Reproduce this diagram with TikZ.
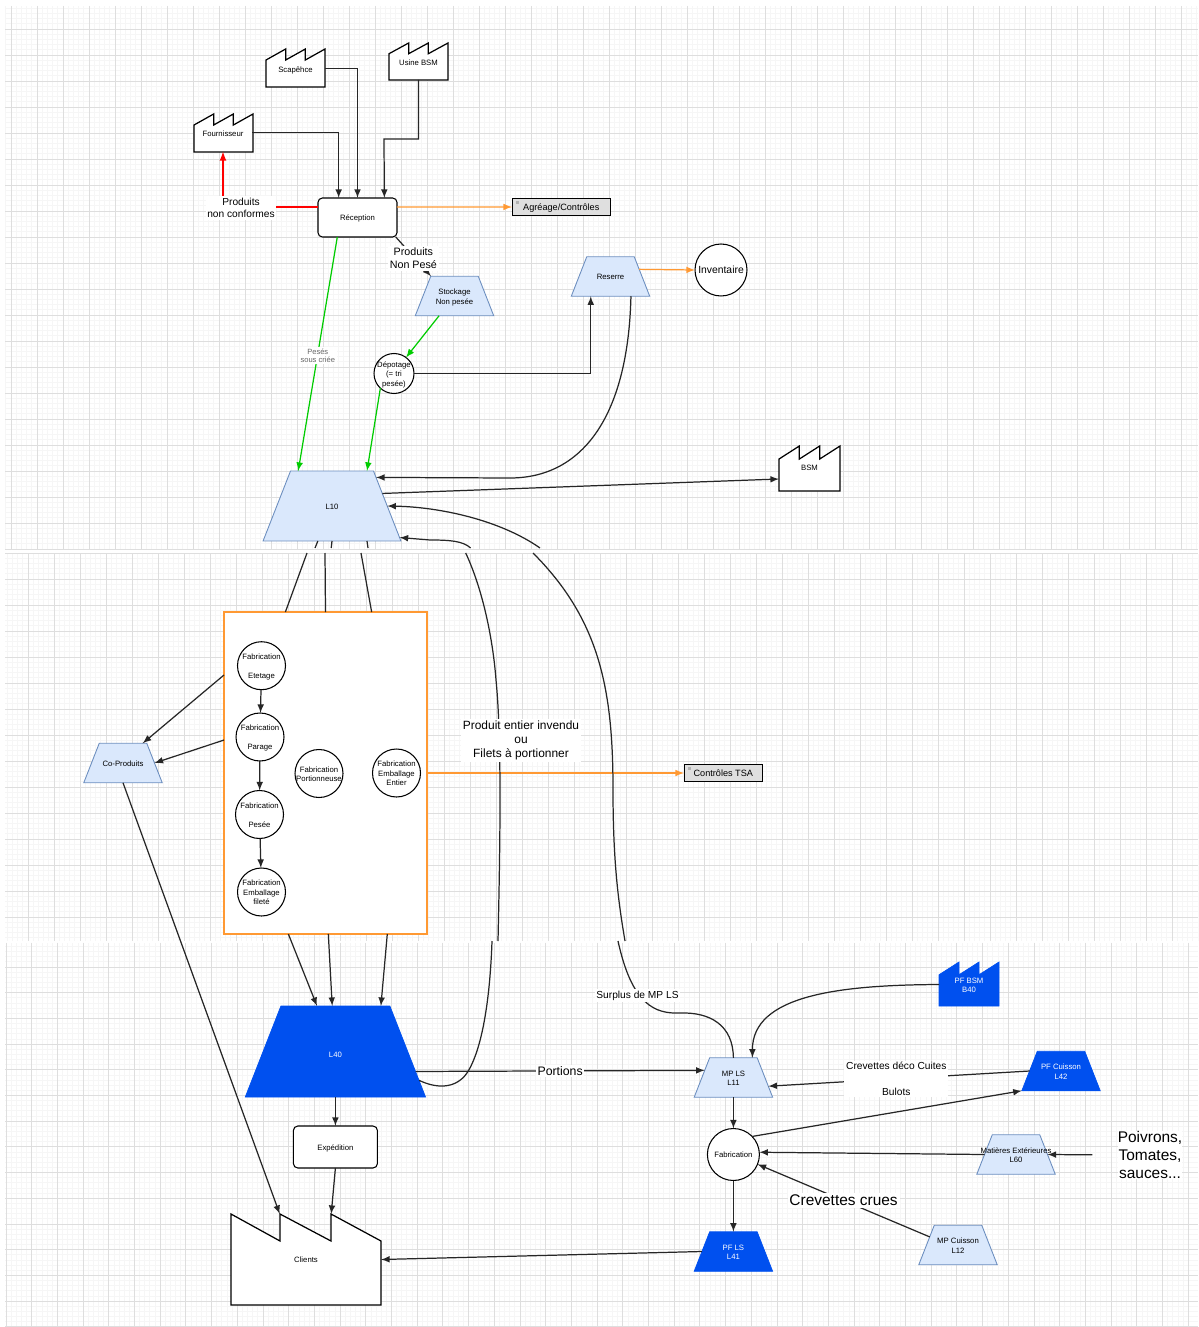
\documentclass[tikz,border=0pt]{standalone}
\usepackage{fontspec}
\setmainfont{Liberation Sans}
\usetikzlibrary{shapes.geometric}
\definecolor{gridminor}{HTML}{F6F6F6}
\definecolor{gridmajor}{HTML}{DEDEDE}
\definecolor{lightfill}{HTML}{DAE8FC}
\definecolor{lightline}{HTML}{6C8EBF}
\definecolor{darkfill}{HTML}{0050EF}
\definecolor{orangeline}{HTML}{FF9933}
\definecolor{greenline}{HTML}{00CC00}
\newcommand{\txtsmall}{\fontsize{4.4}{5.4}\selectfont}
\newcommand{\txtlabel}{\fontsize{5.8}{7.2}\selectfont}
\newcommand{\txtmid}{\fontsize{6.8}{8}\selectfont}
\newcommand{\txtbig}{\fontsize{8.8}{10.2}\selectfont}
\newcommand{\ztext}[1]{\smash{\makebox[0pt]{\raisebox{-2.1pt}{\begin{tabular}{@{}c@{}}#1\end{tabular}}}}}
\tikzset{
	trapbase/.style={trapezium, trapezium left angle=68.6, trapezium right angle=68.6, outer sep=0pt, font=\txtsmall},
	trapsmall/.style={inner xsep=0.475cm, inner ysep=0.395cm},
	lighttrap/.style={trapbase, draw=lightline, fill=lightfill, line width=0.5pt},
	darktrap/.style={trapbase, draw=darkfill, fill=darkfill, text=white},
	ronde/.style={circle, draw, fill=white, line width=0.6pt, inner sep=0pt, outer sep=0pt, minimum size=0.96cm, font=\txtsmall},
	boite/.style={rectangle, rounded corners=2.5pt, draw, fill=white, line width=0.6pt, inner sep=0pt, outer sep=0pt, font=\txtsmall},
	ctrlbox/.style={rectangle, draw, fill=gray!25, line width=0.6pt, inner sep=0pt, outer sep=0pt, font=\fontsize{5.2}{6.4}\selectfont,
		path picture={\fill[gray!60] ([xshift=2pt,yshift=-1.5pt]path picture bounding box.north west) rectangle ++(2pt,-2pt);}},
	usine/.style={draw, fill=white, line width=0.7pt},
	usinebleu/.style={draw=darkfill, fill=darkfill},
	usinetxt/.style={rectangle, inner sep=0pt, outer sep=0pt, font=\txtsmall},
	whitelab/.style={fill=white, inner sep=1pt, align=center, font=\txtlabel},
	fleche/.style={-latex, line width=0.7pt, draw=black!85},
	flechegreen/.style={-latex, line width=0.7pt, draw=greenline},
	flecheorange/.style={-latex, line width=0.7pt, draw=orangeline},
	flechered/.style={-latex, line width=0.8pt, draw=red},
}
\newcommand{\gridpanel}[7]{
	\begin{scope}
		\clip (#1,#2) rectangle (#3,#4);
		\foreach \k in {0,...,235} {
			\pgfmathsetmacro\gx{#5+\k*#7/5}
			\draw[gridminor, line width=0.5pt] (\gx,#2)--(\gx,#4);
		}
		\foreach \k in {0,...,110} {
			\pgfmathsetmacro\gy{#6+\k*#7/5}
			\draw[gridminor, line width=0.5pt] (#1,\gy)--(#3,\gy);
		}
		\foreach \k in {0,...,47} {
			\pgfmathsetmacro\gx{#5+\k*#7}
			\draw[gridmajor, line width=0.5pt] (\gx,#2)--(\gx,#4);
		}
		\foreach \k in {0,...,22} {
			\pgfmathsetmacro\gy{#6+\k*#7}
			\draw[gridmajor, line width=0.5pt] (#1,\gy)--(#3,\gy);
		}
	\end{scope}
}
\newcommand{\factory}[6][usine]{
	\path[#1] (#3,#4+#6)--(#3,#4+0.29*#6)--(#3+#5/3,#4)--(#3+#5/3,#4+0.29*#6)--(#3+2*#5/3,#4)--(#3+2*#5/3,#4+0.29*#6)--(#3+#5,#4)--(#3+#5,#4+#6)--cycle;
}
\begin{document}
\begin{tikzpicture}[x=0.02cm,y=-0.02cm]
	\useasboundingbox (0,0) rectangle (1198,1327);
	\gridpanel{5}{6}{1198}{549}{-15}{3}{26}
	\gridpanel{5}{553.8}{1198}{941}{2}{553}{26}
	\gridpanel{5}{942.5}{1198}{1327}{-19.7}{941.3}{25.7}

	\factory{fourn}{194}{114}{59}{38}
	\node[usinetxt, minimum width=1.18cm, minimum height=0.76cm] (fourn) at (223,132.5) {\ztext{\raisebox{-0.6pt}{Fournisseur}}};
	\factory{scap}{266}{49}{59}{38}
	\node[usinetxt, minimum width=1.18cm, minimum height=0.76cm] (scap) at (295.5,68.5) {\ztext{\raisebox{-0.6pt}{Scapêhce}}};
	\factory{bsmusine}{389}{43}{59}{37}
	\node[usinetxt, minimum width=1.18cm, minimum height=0.74cm] (bsmusine) at (418.5,61.5) {\ztext{\raisebox{-0.6pt}{Usine BSM}}};
	\factory{bsm}{779}{446}{61}{45}
	\node[usinetxt, minimum width=1.22cm, minimum height=0.9cm] (bsm) at (809.5,468.5) {\ztext{\raisebox{1pt}{BSM}}};
	\factory[usinebleu]{pfbsm}{939}{962}{60}{44}
	\node[usinetxt, text=white, minimum width=1.2cm, minimum height=0.88cm] (pfbsm) at (969,984.5) {\ztext{PF BSM\\B40}};
	\path[usine] (231,1305)--(231,1214)--(280,1241)--(280,1214)--(331,1241)--(331,1214)--(381,1241)--(381,1305)--cycle;
	\node[usinetxt, minimum width=3cm, minimum height=1.82cm] (clients) at (306,1259.5) {\ztext{Clients}};

	\node[boite, minimum width=1.58cm, minimum height=0.78cm] (recep) at (357.5,217.5) {\ztext{Réception}};
	\node[boite, minimum width=1.68cm, minimum height=0.84cm] (exped) at (335.4,1147) {\ztext{Expédition}};
	\node[ctrlbox, minimum width=1.97cm, minimum height=0.35cm] (agreage) at (561.3,207) {\ztext{Agréage/Contrôles}};
	\node[ctrlbox, minimum width=1.57cm, minimum height=0.35cm] (tsa) at (723.3,773) {\ztext{Contrôles TSA}};

	\node[lighttrap, trapsmall] (stock) at (454.5,296) {\ztext{Stockage\\Non pesée}};
	\node[lighttrap, trapsmall] (reserre) at (610.5,276.5) {\ztext{Reserre}};
	\node[lighttrap, inner xsep=0.83cm, inner ysep=0.7cm] (L10) at (332,506) {\ztext{L10}};
	\node[lighttrap, trapsmall] (copro) at (123,763) {\ztext{Co-Produits}};
	\node[lighttrap, trapsmall] (mpls) at (733.4,1077.5) {\ztext{MP LS\\L11}};
	\node[lighttrap, trapsmall] (mat) at (1016,1154.5) {\ztext{Matières Extérieures\\L60}};
	\node[lighttrap, trapsmall] (mpcuis) at (958,1245) {\ztext{MP Cuisson\\L12}};
	\node[darktrap, inner xsep=1.09cm, inner ysep=0.91cm] (L40) at (335.4,1051.5) {\ztext{\raisebox{-1.7pt}{L40}}};
	\node[darktrap, trapsmall] (pfcuis) at (1061,1071) {\ztext{PF Cuisson\\L42}};
	\node[darktrap, trapsmall] (pfls) at (733.4,1251.5) {\ztext{PF LS\\L41}};

	\node[ronde, minimum size=0.8cm] (depot) at (394,373.5) {\ztext{Dépotage\\(= tri\\pesée)}};
	\node[ronde, minimum size=1.04cm, font=\fontsize{5.9}{6.8}\selectfont] (inv) at (721,270) {\ztext{Inventaire}};
	\node[ronde, minimum size=1.04cm] (fab) at (733.4,1154.5) {\ztext{Fabrication}};

	\node[rectangle, draw=orangeline, fill=white, line width=0.9pt, inner sep=0pt, outer sep=0pt, minimum width=4.06cm, minimum height=6.44cm] (usinage) at (325.5,773) {};
	\node[ronde] (etet) at (261.5,665.7) {\ztext{Fabrication\\~\\Etetage}};
	\node[ronde] (parage) at (260,737) {\ztext{Fabrication\\~\\Parage}};
	\node[ronde] (pesee) at (259.5,814.5) {\ztext{Fabrication\\~\\Pesée}};
	\node[ronde] (filete) at (261.5,892) {\ztext{Fabrication\\Emballage\\fileté}};
	\node[ronde] (portio) at (319,773.5) {\ztext{Fabrication\\Portionneuse}};
	\node[ronde] (entier) at (396.5,773) {\ztext{Fabrication\\Emballage\\Entier}};

	\coordinate (bsmcoude) at (384,139);
	\draw[fleche] (fourn.east) -| (recep.134.5);
	\draw[fleche] (scap.east) -| (recep.north);
	\draw[fleche] (bsmusine.south) |- (bsmcoude) -- (recep.36);
	\draw[flechered] (recep.165) -| (fourn.south);
	\draw[flecheorange] (recep.15) -- (agreage.west);
	\draw[fleche] (recep.333) -- node[whitelab, pos=0.5, yshift=-1.1pt, font=\fontsize{6.1}{7.4}\selectfont] (lnonpese) {Produits\\Non Pesé} (stock.140);
	\draw[flechegreen] (recep.224) -- node[whitelab, pos=0.5, yshift=-1pt, text=black!60, font=\fontsize{4.3}{4.6}\selectfont] (lsouscriee) {Pesés\\sous criée} (L10.134.6);
	\draw[flechegreen] (stock.232) -- (depot.53);
	\draw[flechegreen] (depot.227) -- (L10.45);
	\draw[fleche] (depot.east) -| (reserre.225);
	\draw[flecheorange] (reserre.14) -- (inv.west);
	\draw[fleche] (reserre.316) .. controls (628,420) and (580,478) .. (510,478) -- (L10.33);
	\draw[fleche] (L10.14) -- (bsm.199);

	\coordinate (a1) at (315,548);
	\coordinate (a2) at (307,553);
	\coordinate (b1) at (331.2,548);
	\coordinate (b2) at (325,553);
	\coordinate (c1) at (368,548);
	\coordinate (c2) at (361,553);
	\draw[fleche, -] (L10.248) -- (a1) (a2) -- (usinage.104.5);
	\draw[fleche, -] (L10.270) -- (b1) (b2) -- (usinage.90.9);
	\draw[fleche, -] (L10.315) -- (c1) (c2) -- (usinage.74.2);
	\draw[fleche] (usinage.257) -- (L40.112);
	\draw[fleche] (usinage.271) -- (L40.94.4);
	\draw[fleche] (usinage.291.2) -- (L40.45.3);
	\draw[fleche] (usinage.136.6) -- (copro.45);
	\draw[fleche] (usinage.162.5) -- (copro.east);
	\draw[fleche] (copro.south) -- (clients.120);
	\draw[fleche] (etet) -- (parage);
	\draw[fleche] (parage) -- (pesee);
	\draw[fleche] (pesee) -- (filete);
	\draw[flecheorange] (usinage.east) -- (tsa.west);

	\coordinate (d1) at (498,941);
	\coordinate (d2) at (492,941);
	\coordinate (d3) at (470.6,548);
	\coordinate (d4) at (465.7,553);
	\draw[fleche] (L40.341.7) .. controls (435,1088) and (455,1090) .. (467,1073) .. controls (482,1050) and (490,1000) .. (d2)
		(d1) .. controls (500,850) and (502,740) .. (496,680) .. controls (493,640) and (483,590) .. (d4)
		(d3) .. controls (463,541) and (450,540) .. (430,540) -- (L10.335);
	\coordinate (e1) at (625,941);
	\coordinate (e2) at (618,941);
	\coordinate (e3) at (540,548);
	\coordinate (e4) at (533,553);
	\draw[fleche] (mpls.north) .. controls (733,1025) and (710,1012) .. (680,1013) .. controls (655,1014) and (632,1005) .. (e2)
		(e1) .. controls (618,900) and (613,860) .. (613,790) .. controls (613,690) and (600,620) .. (e4)
		(e3) .. controls (500,520) and (440,507) .. (L10.east);

	\draw[fleche] (L40.south) -- (exped.north);
	\draw[fleche] (exped.south) -- (clients.61);
	\draw[fleche] (L40.346.5) -- node[whitelab, pos=0.5, font=\fontsize{7}{8}\selectfont] (lportions) {Portions} (mpls.166);
	\draw[fleche] (pfbsm.west) .. controls (840,985) and (752,995) .. (mpls.46);
	\draw[fleche] (pfcuis.west) -- node[whitelab, pos=0.51] (lcuites) {Crevettes déco Cuites\\~\\Bulots} (mpls.346);
	\draw[fleche] (mpls.south) -- (fab.north);
	\draw[fleche] (fab.44) -- (pfcuis.bottom left corner);
	\draw[fleche] (mat.west) -- (fab.5);
	\draw[fleche] (mpcuis.164.6) -- node[whitelab, pos=0.5, font=\txtbig] (lcrues) {Crevettes crues} (fab.338);
	\draw[fleche] (fab.south) -- (pfls.north);
	\draw[fleche] (pfls.west) -- (clients.east);

	\node[whitelab, font=\txtbig, inner sep=0pt] (poivrons) at (1150,1155) {Poivrons,\\Tomates,\\sauces...};
	\draw[fleche, shorten <=0.5cm] (poivrons.west) -- (mat.east);
	\node[whitelab] (lsurplus) at (637.5,995.5) {Surplus de MP LS};
	\node[whitelab, font=\txtmid] (lentier) at (521,740.5) {Produit entier invendu\\ou\\Filets à portionner};
	\node[whitelab] (lconformes) at (241,208) {Produits\\non conformes};
\end{tikzpicture}
\end{document}
